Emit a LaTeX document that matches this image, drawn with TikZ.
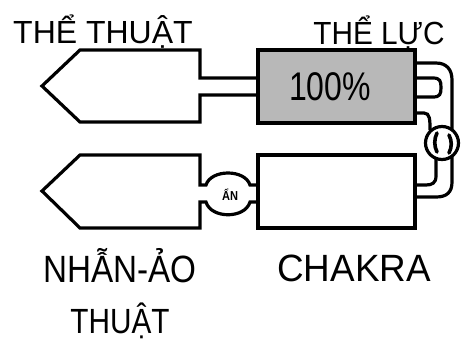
\documentclass[tikz,border=0pt]{standalone}
\usepackage{fontspec}
\setmainfont{Liberation Sans}

\begin{document}
\begin{tikzpicture}[x=1pt, y=-1pt,
    wall/.style={line width=3.2pt},
    tank/.style={wall, draw, rectangle, inner sep=0pt},
    word/.style={anchor=base, inner sep=0pt}]
    \colorlet{tankgray}{black!28}
    \useasboundingbox (0,0) rectangle (463,341);

    % the two tanks
    \node[tank, fill=tankgray, minimum width=157pt, minimum height=73pt] (luc)    at (336.5,86.5) {};
    \node[tank, fill=white,    minimum width=157pt, minimum height=73pt] (chakra) at (336.5,191.5) {};

    % upper arrow with straight pipe
    \draw[wall] (luc.west |- 0,78) -- (200,78) -- (200,50) -- (80,50) -- (42,86)
        -- (80,122) -- (200,122) -- (200,95) -- (luc.west |- 0,95);

    % lower arrow with the bulb
    \draw[wall] (chakra.west |- 0,185) -- (250,185) .. controls (245,169) and (211,169) .. (206,185)
        -- (200,185) -- (200,155) -- (80,155) -- (42,191) -- (80,228) -- (200,228) -- (200,202)
        -- (206,202) .. controls (211,219) and (245,219) .. (250,202) -- (chakra.west |- 0,202);
    \node[font=\fontsize{13}{13}\selectfont\bfseries, inner sep=0pt] (an) at (230,195) {\scalebox{0.85}[1]{ẨN}};

    % right hand pipes
    \draw[wall] (luc.east |- 0,63) -- (436,63) .. controls (447,63) and (452,70) .. (452,80)
        -- (452,182) .. controls (452,192) and (447,197) .. (436,197) -- (chakra.east |- 0,197);
    \draw[wall] (luc.east |- 0,78) -- (433,78) .. controls (440,78) and (441,81) .. (441,87.5)
        .. controls (441,94) and (440,97) .. (433,97) -- (luc.east |- 0,97);
    \draw[wall] (luc.east |- 0,113) -- (424,113) .. controls (430,113) and (430,120) .. (430,130);
    \draw[wall] (436,158) -- (436,176) .. controls (436,183) and (432,185) .. (426,185) -- (chakra.east |- 0,185);

    % valve
    \node[wall, draw, fill=white, circle, minimum size=33pt, inner sep=0pt] (valve) at (442,143) {};
    \begin{scope}[shift={(valve.center)}]
        \draw[line width=3.6pt, line cap=round] (-5,-10) .. controls (-8,-4) and (-8,3) .. (-5,9);
        \draw[line width=3.6pt, line cap=round] (7,-8) .. controls (10,-2) and (10,4) .. (7,10);
    \end{scope}

    % texts
    \node[word, font=\fontsize{40}{40}\selectfont] (pct) at (330,100) {\scalebox{0.8}[1]{100\%}};
    \node[word, font=\fontsize{32}{32}\selectfont] (thuat) at (103,43) {THỂ THUẬT};
    \node[word, font=\fontsize{32}{32}\selectfont] (theluc) at (379,44) {\scalebox{0.93}[1]{THỂ LỰC}};
    \node[word, font=\fontsize{38}{38}\selectfont] (nhan) at (120,282) {\scalebox{0.875}[1]{NHẪN-ẢO}};
    \node[word, font=\fontsize{35}{35}\selectfont] (aothuat) at (120,333) {\scalebox{0.85}[1]{THUẬT}};
    \node[word, font=\fontsize{38}{38}\selectfont] (chakratext) at (354,281) {\scalebox{0.97}[1]{CHAKRA}};
\end{tikzpicture}
\end{document}
